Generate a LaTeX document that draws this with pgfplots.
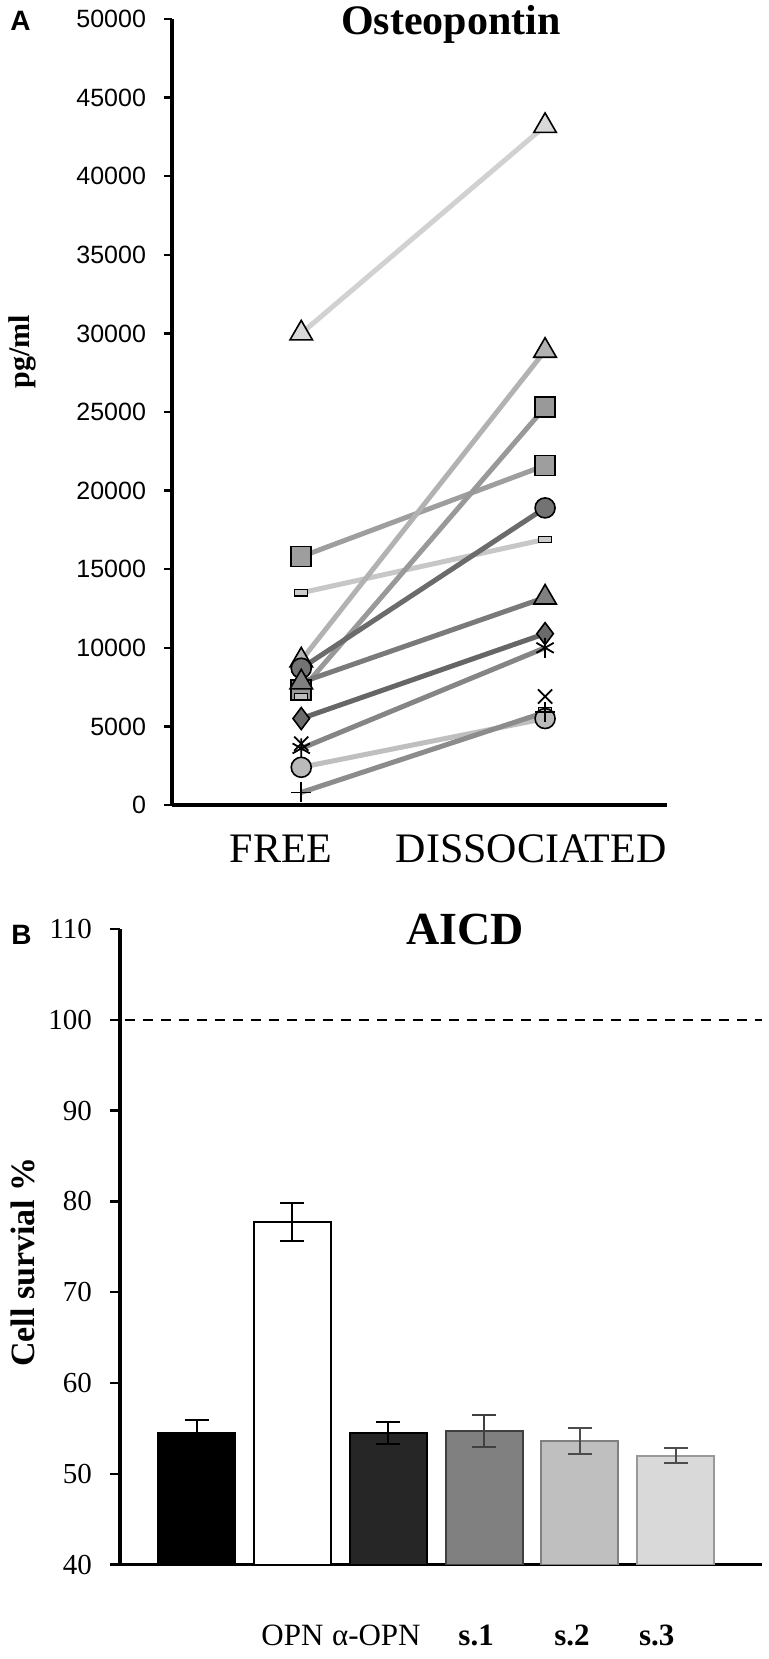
\documentclass[border=0pt]{standalone}
\usepackage{fontspec}
\setmainfont{Liberation Serif}
\setsansfont{Liberation Sans}
\usepackage{pgfplots}
\pgfplotsset{compat=1.18}
\begin{document}
\begin{tikzpicture}
\useasboundingbox (0bp,0bp) rectangle (384.5bp,-829.5bp);
% ---------------- Panel A ----------------
\begin{axis}[
  at={(86bp,-402.5bp)}, anchor=south west,
  scale only axis, width=247.5bp, height=393bp,
  xmin=0.47, xmax=2.5, ymin=0, ymax=50000,
  axis x line=bottom, axis y line=left,
  axis line style={line width=1.8bp,-},
  xtick={1,2}, xticklabels={FREE\hspace*{20bp}, DISSOCIATED\hspace*{14bp}},
  x tick style={draw=none},
  xticklabel style={font=\fontsize{21bp}{21bp}\selectfont, anchor=base, yshift=-24.5bp},
  ytick={0,5000,...,50000},
  y tick style={line width=1.2bp, black},
  tick align=outside, major tick length=4bp,
  yticklabel style={font=\sffamily\fontsize{12.5bp}{12.5bp}\selectfont, xshift=-5.5bp},
  /pgf/number format/assume math mode=true,
  /pgf/number format/1000 sep={},
  scaled y ticks=false,
  clip=false,
  every axis plot/.append style={line width=2.5bp},
]
% triangle light
\addplot[color=black!18, mark=triangle*, mark size=6.5bp, mark options={fill=black!15, draw=black, line width=0.8bp}] coordinates {(1,30000) (2,43200)};
% square
\addplot[color=black!38, mark=square*, mark size=5bp, mark options={fill=black!38, draw=black, line width=0.8bp}] coordinates {(1,15800) (2,21600)};
% dash light
\addplot[color=black!22, mark=square*, mark size=1.6bp, mark options={xscale=2, fill=black!20, draw=black, line width=0.6bp}] coordinates {(1,13500) (2,16900)};
% triangle -> 28900
\addplot[color=black!30, mark=triangle*, mark size=6.5bp, mark options={fill=black!30, draw=black, line width=0.8bp}] coordinates {(1,9200) (2,28900)};
% square -> 25300
\addplot[color=black!40, mark=square*, mark size=5bp, mark options={fill=black!40, draw=black, line width=0.8bp}] coordinates {(1,7300) (2,25300)};
% circle dark
\addplot[color=black!58, mark=*, mark size=5bp, mark options={fill=black!55, draw=black, line width=0.8bp}] coordinates {(1,8700) (2,18900)};
% triangle mid
\addplot[color=black!52, mark=triangle*, mark size=6.5bp, mark options={fill=black!50, draw=black, line width=0.8bp}] coordinates {(1,7800) (2,13200)};
% dash (marks only)
\addplot[only marks, mark=square*, mark size=1.6bp, mark options={xscale=2, fill=black!25, draw=black, line width=0.6bp}] coordinates {(1,6900) (2,6000)};
% diamond
\addplot[color=black!60, mark=diamond*, mark size=5.5bp, mark options={fill=black!58, draw=black, line width=0.8bp}] coordinates {(1,5500) (2,10900)};
% asterisk
\addplot[color=black!48, mark=asterisk, mark size=5bp, mark options={draw=black, line width=0.9bp}] coordinates {(1,3600) (2,10000)};
% x
\addplot[only marks, mark=x, mark size=5bp, mark options={draw=black, line width=0.9bp}] coordinates {(1,3900) (2,6900)};
% circle light
\addplot[color=black!25, mark=*, mark size=5bp, mark options={fill=black!27, draw=black, line width=0.8bp}] coordinates {(1,2400) (2,5500)};
% plus
\addplot[color=black!45, mark=+, mark size=5bp, mark options={draw=black, line width=0.9bp}] coordinates {(1,800) (2,5900)};
\end{axis}
\node[anchor=base, font=\bfseries\fontsize{21bp}{21bp}\selectfont] at (225.5bp,-17bp) {Osteopontin};
\node[anchor=base west, font=\sffamily\bfseries\fontsize{14bp}{14bp}\selectfont, inner sep=0pt] at (5bp,-15bp) {A};
\node[rotate=90, font=\bfseries\fontsize{15bp}{15bp}\selectfont] at (11bp,-176bp) {pg/ml};
% ---------------- Panel B ----------------
\begin{axis}[
  at={(60bp,-782.3bp)}, anchor=south west,
  scale only axis, width=321bp, height=317.8bp,
  xmin=0.2, xmax=6.9, ymin=40, ymax=110,
  axis x line=bottom, axis y line=left,
  axis line style={line width=1.6bp,-},
  xtick={2,3,4,5,6},
  xticklabels={OPN, α-OPN\hspace*{12bp}, \textbf{s.1}\hspace*{8bp}, \textbf{s.2}\hspace*{8bp}, \textbf{s.3}\hspace*{19bp}},
  x tick style={draw=none},
  xticklabel style={font=\fontsize{15.5bp}{15.5bp}\selectfont, anchor=base, yshift=-35.5bp},
  ytick={40,50,...,110},
  y tick style={line width=1.2bp, black},
  tick align=outside, major tick length=5bp,
  yticklabel style={font=\fontsize{14.5bp}{14.5bp}\selectfont, xshift=-5.5bp},
  /pgf/number format/assume math mode=true,
]
\addplot[black, line width=1bp, dash pattern=on 5bp off 4bp, forget plot] coordinates {(0.25,100) (6.9,100)};
\addplot[ybar, bar width=38.5bp, fill=black, draw=black, line width=1bp,
  error bars/.cd, y dir=both, y explicit,
  error bar style={line width=1bp, black},
  error mark options={rotate=90, mark size=6bp, line width=1bp, black}]
  coordinates {(1,54.5) +- (0,1.4)};
\addplot[ybar, bar width=38.5bp, fill=white, draw=black, line width=1bp,
  error bars/.cd, y dir=both, y explicit,
  error bar style={line width=1bp, black},
  error mark options={rotate=90, mark size=6bp, line width=1bp, black}]
  coordinates {(2,77.7) +- (0,2.1)};
\addplot[ybar, bar width=38.5bp, fill=black!85, draw=black, line width=1bp,
  error bars/.cd, y dir=both, y explicit,
  error bar style={line width=1bp, black},
  error mark options={rotate=90, mark size=6bp, line width=1bp, black}]
  coordinates {(3,54.5) +- (0,1.2)};
\addplot[ybar, bar width=38.5bp, fill=black!50, draw=black!75, line width=1bp,
  error bars/.cd, y dir=both, y explicit,
  error bar style={line width=1bp, black!75},
  error mark options={rotate=90, mark size=6bp, line width=1bp, black!75}]
  coordinates {(4,54.7) +- (0,1.8)};
\addplot[ybar, bar width=38.5bp, fill=black!25, draw=black!50, line width=1bp,
  error bars/.cd, y dir=both, y explicit,
  error bar style={line width=1bp, black!70},
  error mark options={rotate=90, mark size=6bp, line width=1bp, black!70}]
  coordinates {(5,53.6) +- (0,1.4)};
\addplot[ybar, bar width=38.5bp, fill=black!15, draw=black!40, line width=1bp,
  error bars/.cd, y dir=both, y explicit,
  error bar style={line width=1bp, black!70},
  error mark options={rotate=90, mark size=6bp, line width=1bp, black!70}]
  coordinates {(6,52.0) +- (0,0.8)};
\end{axis}
\node[anchor=base, font=\bfseries\fontsize{23bp}{23bp}\selectfont] at (232.5bp,-472.3bp) {AICD};
\node[anchor=base west, font=\sffamily\bfseries\fontsize{14bp}{14bp}\selectfont, inner sep=0pt] at (5.5bp,-472.3bp) {B};
\node[rotate=90, font=\bfseries\fontsize{17bp}{17bp}\selectfont] at (11.5bp,-631bp) {Cell survial \%};
\end{tikzpicture}
\end{document}
